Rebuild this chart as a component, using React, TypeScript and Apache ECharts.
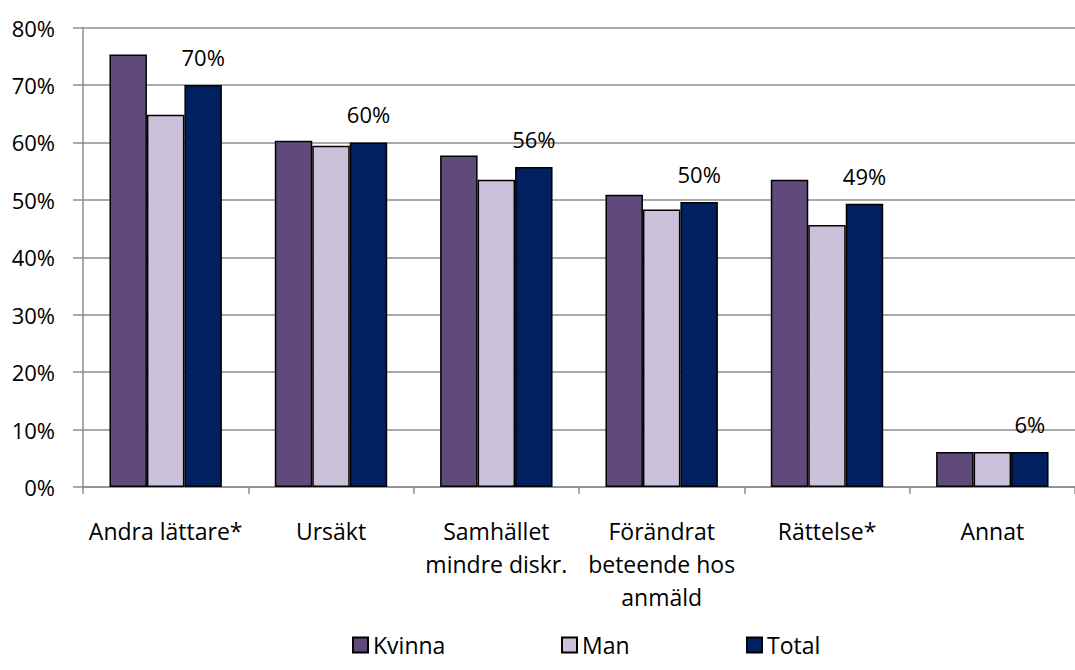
import React, { useEffect, useRef } from "react";
import * as echarts from "echarts";

const categories = [
  "Andra lättare*",
  "Ursäkt",
  "Samhället\nmindre diskr.",
  "Förändrat\nbeteende hos\nanmäld",
  "Rättelse*",
  "Annat",
];
const kvinna = [75.3, 60.3, 57.7, 50.9, 53.5, 6.1];
const man = [64.8, 59.4, 53.5, 48.3, 45.6, 6.1];
const total = [70.0, 60.0, 55.7, 49.6, 49.3, 6.1];
const seriesNames = ["Kvinna", "Man", "Total"];
const colors = ["#604A7B", "#CCC1DA", "#002060"];
const yTicks = { min: 0, max: 80, interval: 10 };

const FONT = "Open Sans";
const FS = 22;
const FSX = 23;

export default function App() {
  const ref = useRef<HTMLDivElement>(null);
  useEffect(() => {
    if (!ref.current) return;
    const chart = echarts.init(ref.current, null, { renderer: "svg" });
    const data = [kvinna, man, total];
    const legendLeft = [352, 561, 746];
    chart.setOption({
      animation: false,
      textStyle: { fontFamily: FONT, color: "#000" },
      grid: { left: 83, right: 0, top: 27.5, bottom: 183, containLabel: false },
      legend: seriesNames.map((n, i) => ({
        data: [n],
        left: legendLeft[i],
        top: 631,
        padding: 0,
        itemWidth: 15,
        itemHeight: 15,
        icon: "rect",
        selectedMode: false,
        textStyle: { fontFamily: FONT, fontSize: FSX, color: "#000", lineHeight: 28 },
      })),
      xAxis: {
        type: "category",
        data: categories,
        axisLine: { show: true, lineStyle: { color: "#8e8e8e", width: 1.5 } },
        axisTick: { show: true, length: 7, lineStyle: { color: "#8e8e8e", width: 1.5 } },
        axisLabel: {
          interval: 0,
          margin: 27,
          fontFamily: FONT,
          fontSize: FSX,
          color: "#000",
          lineHeight: 33,
          align: "center",
        },
      },
      yAxis: {
        type: "value",
        min: yTicks.min,
        max: yTicks.max,
        interval: yTicks.interval,
        axisLine: { show: true, lineStyle: { color: "#8e8e8e", width: 1.5 } },
        axisTick: { show: true, length: 10, lineStyle: { color: "#8e8e8e", width: 1.5 } },
        splitLine: { show: true, lineStyle: { color: "#8e8e8e", width: 1.5 } },
        axisLabel: {
          margin: 28,
          fontFamily: FONT,
          fontSize: FS,
          color: "#000",
          formatter: "{value}%",
        },
      },
      series: seriesNames.map((n, i) => ({
        name: n,
        type: "bar",
        data: data[i],
        barGap: "0%",
        barCategoryGap: "32%",
        itemStyle: { color: colors[i], borderColor: "#000", borderWidth: 1.5 },
        label:
          i === 2
            ? {
                show: true,
                position: "top",
                distance: 17,
                fontFamily: FONT,
                fontSize: FS,
                color: "#000",
                formatter: (p: any) => Math.round(p.value) + "%",
              }
            : { show: false },
      })),
    });
    return () => chart.dispose();
  }, []);
  return (
    <div
      ref={ref}
      style={{ position: "fixed", left: 0, top: 0, width: 1075, height: 670, background: "#fff" }}
    />
  );
}
